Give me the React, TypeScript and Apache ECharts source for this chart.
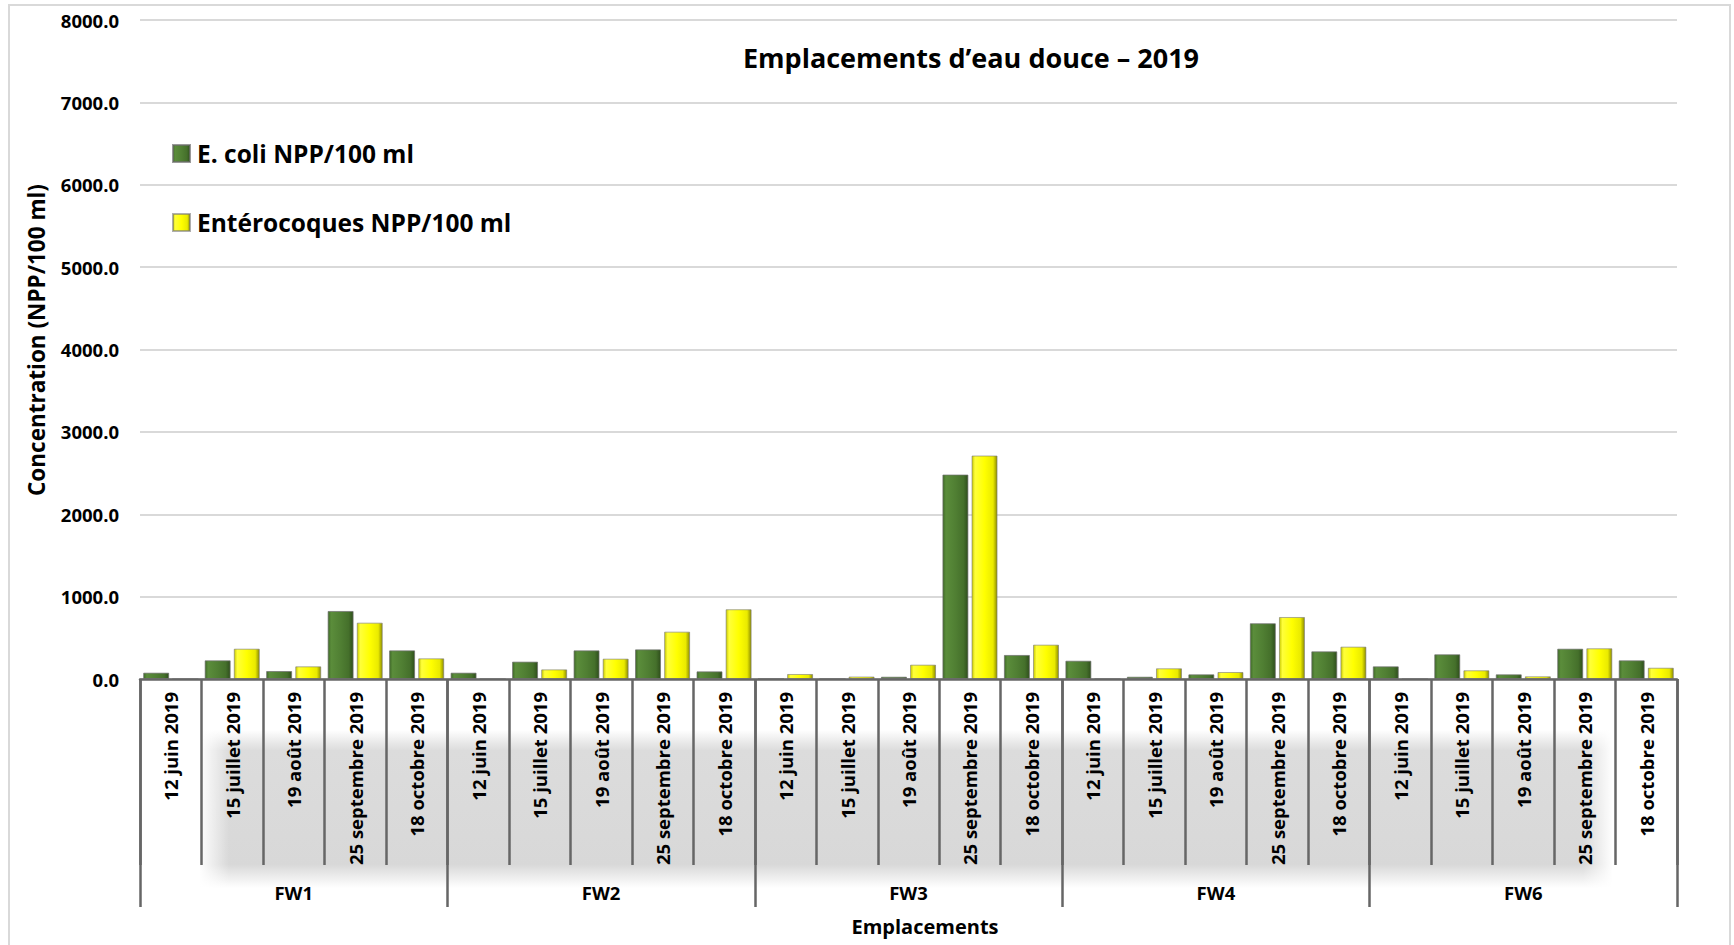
import React, { useEffect, useRef } from "react";
import * as echarts from "echarts";

const sites = ["FW1", "FW2", "FW3", "FW4", "FW6"];
const dates = ["12 juin 2019", "15 juillet 2019", "19 août 2019", "25 septembre 2019", "18 octobre 2019"];
const ecoliFW1 = [77, 227, 97, 826, 348];
const ecoliFW2 = [77, 211, 348, 360, 93];
const ecoliFW3 = [0, 0, 28, 2482, 292];
const ecoliFW4 = [222, 28, 57, 677, 336];
const ecoliFW6 = [154, 300, 57, 368, 227];
const enteroFW1 = [0, 368, 154, 684, 251];
const enteroFW2 = [0, 117, 247, 575, 847];
const enteroFW3 = [61, 30, 174, 2713, 417];
const enteroFW4 = [0, 130, 85, 753, 393];
const enteroFW6 = [0, 106, 33, 373, 137];
const yMin = 0;
const yMax = 8000;
const yStep = 1000;

const FONT = "'Open Sans', 'Noto Sans', sans-serif";

export default function App() {
  const ref = useRef<HTMLDivElement>(null);
  useEffect(() => {
    if (!ref.current) return;
    const chart = echarts.init(ref.current, null, { renderer: "svg" });
    const cats: string[] = [];
    sites.forEach(() => dates.forEach((d) => cats.push(d)));
    const ecoli = [...ecoliFW1, ...ecoliFW2, ...ecoliFW3, ...ecoliFW4, ...ecoliFW6];
    const entero = [...enteroFW1, ...enteroFW2, ...enteroFW3, ...enteroFW4, ...enteroFW6];

    const green = new echarts.graphic.LinearGradient(0, 0, 1, 0, [
      { offset: 0, color: "#3f6a27" },
      { offset: 0.12, color: "#5b8d3b" },
      { offset: 0.5, color: "#507f33" },
      { offset: 0.82, color: "#45702b" },
      { offset: 1, color: "#2f4f1c" },
    ]);
    const yellow = new echarts.graphic.LinearGradient(0, 0, 1, 0, [
      { offset: 0, color: "#caca00" },
      { offset: 0.12, color: "#ffff3a" },
      { offset: 0.5, color: "#ffff00" },
      { offset: 0.84, color: "#eaea00" },
      { offset: 1, color: "#8f8f00" },
    ]);

    const band = new echarts.graphic.LinearGradient(0, 0, 0, 1, [
      { offset: 0, color: "rgba(217,217,217,0)" },
      { offset: 0.13, color: "rgba(220,220,220,1)" },
      { offset: 0.85, color: "rgba(216,216,216,1)" },
      { offset: 1, color: "rgba(217,217,217,0)" },
    ]);
    const fadeLeft = new echarts.graphic.LinearGradient(0, 0, 1, 0, [
      { offset: 0, color: "rgba(255,255,255,1)" },
      { offset: 1, color: "rgba(255,255,255,0)" },
    ]);
    const fadeRight = new echarts.graphic.LinearGradient(0, 0, 1, 0, [
      { offset: 0, color: "rgba(255,255,255,0)" },
      { offset: 1, color: "rgba(255,255,255,1)" },
    ]);

    chart.setOption({
      animation: false,
      backgroundColor: "#ffffff",
      graphic: [
        {
          type: "rect",
          z: -10,
          silent: true,
          shape: { x: 9, y: 5, width: 1721, height: 960 },
          style: { fill: "none", stroke: "#d9d9d9", lineWidth: 2 },
        },
        {
          type: "rect",
          z: -6,
          silent: true,
          shape: { x: 200, y: 730, width: 1412, height: 158 },
          style: { fill: band },
        },
        {
          type: "rect",
          z: -5,
          silent: true,
          shape: { x: 199, y: 725, width: 30, height: 168 },
          style: { fill: fadeLeft },
        },
        {
          type: "rect",
          z: -5,
          silent: true,
          shape: { x: 1583, y: 725, width: 30, height: 168 },
          style: { fill: fadeRight },
        },
        {
          type: "text",
          x: 971,
          y: 57,
          style: {
            text: "Emplacements d\u2019eau douce \u2013 2019",
            fontFamily: FONT,
            fontSize: 27,
            fontWeight: "bold",
            fill: "#000",
            align: "center",
            verticalAlign: "middle",
          },
        },
        {
          type: "text",
          x: 925,
          y: 926,
          style: {
            text: "Emplacements",
            fontFamily: FONT,
            fontSize: 20,
            fontWeight: "bold",
            fill: "#000",
            align: "center",
            verticalAlign: "middle",
          },
        },
        {
          type: "text",
          x: 36,
          y: 340,
          rotation: Math.PI / 2,
          style: {
            text: "Concentration (NPP/100 ml)",
            fontFamily: FONT,
            fontSize: 22.5,
            fontWeight: "bold",
            fill: "#000",
            align: "center",
            verticalAlign: "middle",
          },
        },
      ],
      legend: {
        orient: "vertical",
        left: 172,
        top: 141,
        padding: 0,
        itemWidth: 17,
        itemHeight: 17,
        itemGap: 44,
        icon: "rect",
        textStyle: {
          fontFamily: FONT,
          fontSize: 24.5,
          lineHeight: 25,
          fontWeight: "bold",
          color: "#000",
          padding: [0, 0, 0, 2],
        },
        data: ["E. coli NPP/100 ml", "Entérocoques NPP/100 ml"],
      },
      grid: { left: 140, right: 57, top: 20, bottom: 266, outerBoundsMode: "none" },
      xAxis: [
        {
          type: "category",
          data: cats,
          position: "bottom",
          axisLine: { show: true, lineStyle: { color: "#666666", width: 2.5 } },
          axisTick: { show: true, length: 186, lineStyle: { color: "#666666", width: 2.5 } },
          axisLabel: {
            rotate: 90,
            interval: 0,
            margin: 13,
            fontFamily: FONT,
            fontSize: 18.5,
            fontWeight: "bold",
            color: "#000",
          },
          z: 5,
        },
        {
          type: "category",
          data: sites,
          position: "bottom",
          axisLine: { show: false },
          axisTick: { show: true, length: 228, lineStyle: { color: "#666666", width: 2.5 } },
          axisLabel: {
            interval: 0,
            margin: 204,
            fontFamily: FONT,
            fontSize: 18.5,
            fontWeight: "bold",
            color: "#000",
          },
          z: 5,
        },
      ],
      yAxis: {
        type: "value",
        min: yMin,
        max: yMax,
        interval: yStep,
        axisLine: { show: false },
        axisTick: { show: false },
        axisLabel: {
          margin: 21,
          fontFamily: FONT,
          fontSize: 18.5,
          fontWeight: "bold",
          color: "#000",
          formatter: (v: number) => v.toFixed(1),
        },
        splitLine: { lineStyle: { color: "#d9d9d9", width: 2 } },
      },
      series: [
        {
          name: "E. coli NPP/100 ml",
          type: "bar",
          xAxisIndex: 0,
          data: ecoli,
          barWidth: 26,
          barGap: "12%",
          itemStyle: { color: green, borderColor: "rgba(110,110,110,0.7)", borderWidth: 1 },
        },
        {
          name: "Entérocoques NPP/100 ml",
          type: "bar",
          xAxisIndex: 0,
          data: entero,
          barWidth: 26,
          barGap: "12%",
          itemStyle: { color: yellow, borderColor: "rgba(120,120,120,0.6)", borderWidth: 1 },
        },
      ],
    });
    return () => chart.dispose();
  }, []);
  return (
    <div
      ref={ref}
      style={{ position: "fixed", left: 0, top: 0, width: 1734, height: 945, background: "#fff" }}
    />
  );
}
